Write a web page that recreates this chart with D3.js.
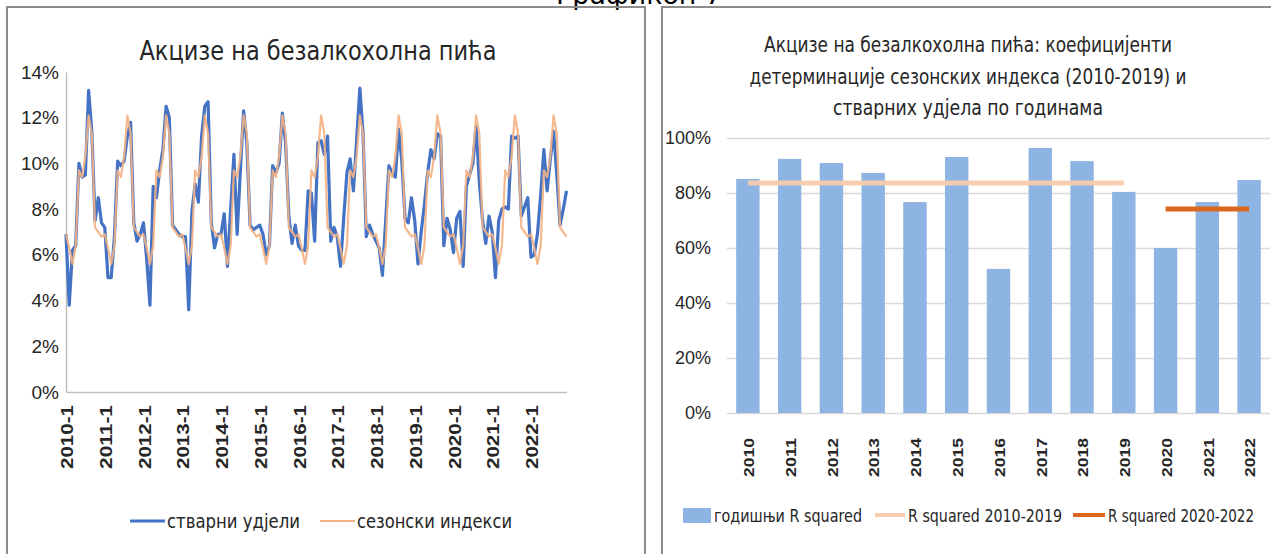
<!DOCTYPE html>
<html>
<head>
<meta charset="utf-8">
<script src="https://cdn.jsdelivr.net/npm/d3@7"></script>
<style>
body { margin: 0; background: #fff; }
svg { display: block; font-family: "Liberation Sans Narrow", "DejaVu Sans Condensed", "Liberation Sans", sans-serif; }
</style>
</head>
<body>
<script>
// ---- data ----
var years = [2010, 2011, 2012, 2013, 2014, 2015, 2016, 2017, 2018, 2019, 2020, 2021, 2022];

// monthly share, % (стварни удјели)
var stvarniUdjeli = [
  6.9, 3.8, 6.2, 6.4, 10.0, 9.4, 9.5, 13.2, 11.4, 7.5, 8.5, 7.4,
  7.2, 5.0, 5.0, 6.8, 10.1, 9.9, 10.1, 11.2, 11.8, 7.4, 6.6, 6.9,
  7.4, 5.8, 3.8, 9.0, 8.5, 9.7, 10.6, 12.5, 12.0, 7.3, 7.1, 6.9,
  6.8, 6.8, 3.6, 7.9, 9.1, 8.3, 11.2, 12.5, 12.7, 7.4, 6.3, 6.9,
  6.9, 7.8, 5.5, 8.0, 10.4, 6.9, 9.7, 12.3, 10.9, 7.3, 7.1, 7.2,
  7.3, 6.9, 6.0, 6.4, 9.9, 9.6, 10.0, 12.2, 10.9, 7.7, 6.5, 7.3,
  6.4, 6.2, 6.2, 8.8, 8.7, 6.6, 10.9, 11.0, 10.4, 11.2, 6.6, 7.2,
  6.8, 5.5, 7.6, 9.6, 10.2, 8.8, 11.0, 13.3, 11.3, 6.8, 7.3, 6.9,
  6.6, 6.3, 5.1, 7.5, 9.9, 9.6, 9.4, 11.5, 10.1, 7.6, 7.4, 8.5,
  7.5, 5.6, 7.0, 8.2, 9.6, 10.6, 10.2, 11.3, 11.2, 6.4, 7.6, 7.1,
  6.1, 7.6, 7.9, 5.5, 9.0, 9.5, 10.0, 11.6, 9.2, 7.5, 6.5, 7.7,
  7.0, 5.0, 7.5, 8.0, 8.1, 8.0, 11.2, 11.1, 11.2, 7.7, 8.1, 8.5,
  5.9, 6.0, 6.9, 8.6, 10.6, 8.8, 10.2, 11.4, 9.5, 7.3, 8.0, 8.8
];

// seasonal index, % (сезонски индекси)
var sezonskiIndeksi = [
  6.9, 6.3, 5.6, 6.4, 9.7, 9.4, 10.3, 12.1, 11.3, 7.2, 7.0, 6.8,
  6.9, 6.3, 5.6, 6.4, 9.7, 9.4, 10.3, 12.1, 11.3, 7.2, 7.0, 6.8,
  6.9, 6.3, 5.6, 6.4, 9.7, 9.4, 10.3, 12.1, 11.3, 7.2, 7.0, 6.8,
  6.9, 6.3, 5.6, 6.4, 9.7, 9.4, 10.3, 12.1, 11.3, 7.2, 7.0, 6.8,
  6.9, 6.3, 5.6, 6.4, 9.7, 9.4, 10.3, 12.1, 11.3, 7.2, 7.0, 6.8,
  6.9, 6.3, 5.6, 6.4, 9.7, 9.4, 10.3, 12.1, 11.3, 7.2, 7.0, 6.8,
  6.9, 6.3, 5.6, 6.4, 9.7, 9.4, 10.3, 12.1, 11.3, 7.2, 7.0, 6.8,
  6.9, 6.3, 5.6, 6.4, 9.7, 9.4, 10.3, 12.1, 11.3, 7.2, 7.0, 6.8,
  6.9, 6.3, 5.6, 6.4, 9.7, 9.4, 10.3, 12.1, 11.3, 7.2, 7.0, 6.8,
  6.9, 6.3, 5.6, 6.4, 9.7, 9.4, 10.3, 12.1, 11.3, 7.2, 7.0, 6.8,
  6.9, 6.3, 5.6, 6.4, 9.7, 9.4, 10.3, 12.1, 11.3, 7.2, 7.0, 6.8,
  6.9, 6.3, 5.6, 6.4, 9.7, 9.4, 10.3, 12.1, 11.3, 7.2, 7.0, 6.8,
  6.9, 6.3, 5.6, 6.4, 9.7, 9.4, 10.3, 12.1, 11.3, 7.2, 7.0, 6.8
];

// yearly R squared, %
var godisnjiR = [85.1, 92.4, 90.9, 87.3, 76.7, 93.1, 52.4, 96.4, 91.6, 80.4, 60.0, 76.7, 84.7];
var r2010_2019 = [83.6, 83.6, 83.6, 83.6, 83.6, 83.6, 83.6, 83.6, 83.6, 83.6, null, null, null];
var r2020_2022 = [null, null, null, null, null, null, null, null, null, null, 74.2, 74.2, 74.2];

var leftTicks = [0, 2, 4, 6, 8, 10, 12, 14];
var rightTicks = [0, 20, 40, 60, 80, 100];

// ---- drawing ----
var W = 1271, H = 554;
var txt = "#262626";
var svg = d3.select("body").append("svg").attr("width", W).attr("height", H);

function fit(sel, w) {
    sel.attr("textLength", w).attr("lengthAdjust", "spacingAndGlyphs");
    return sel;
}

// page caption (cut at top, as in the source page)
svg.append("text").attr("x", 639).attr("y", 4).attr("text-anchor", "middle")
    .style("font-size", "26px").attr("fill", "#000").call(fit, 166).text("Графикон 7");

// panel frames
svg.append("rect").attr("x", 7).attr("y", 7).attr("width", 638).attr("height", 570)
    .attr("fill", "none").attr("stroke", "#8c8c8c").attr("stroke-width", 2);
svg.append("rect").attr("x", 662).attr("y", 7).attr("width", 640).attr("height", 570)
    .attr("fill", "none").attr("stroke", "#8c8c8c").attr("stroke-width", 2);

// ===== left chart =====
var months = [];
years.forEach(function(y) { for (var m = 1; m <= 12; m++) months.push(y + "-" + m); });

var x1 = d3.scalePoint().domain(months).range([66, 566.5]);
var y1 = d3.scaleLinear().domain([0, 14]).range([392, 72]);

var g1 = svg.append("g");

g1.append("text").attr("x", 318).attr("y", 60).attr("text-anchor", "middle")
    .style("font-size", "26px").attr("fill", txt).call(fit, 357).text("Акцизе на безалкохолна пића");

var ya1 = g1.append("g").attr("transform", "translate(66,0)")
    .call(d3.axisLeft(y1).tickValues(leftTicks).tickSize(0).tickPadding(7).tickFormat(function(d) { return d + "%"; }));
ya1.select(".domain").attr("stroke", "#bfbfbf").attr("stroke-width", 1.5);
ya1.selectAll("text").style("font-size", "19px").attr("fill", txt).attr("font-family", null);

var xa1 = g1.append("g").attr("transform", "translate(0,392)")
    .call(d3.axisBottom(x1).tickValues(years.map(function(y) { return y + "-1"; })).tickSize(0));
xa1.select(".domain").attr("stroke", "#bfbfbf").attr("stroke-width", 1.5);
xa1.selectAll("text")
    .attr("transform", "rotate(-90)").attr("x", -13).attr("y", 1).attr("dy", "0.35em")
    .attr("text-anchor", "end").style("font-size", "16px").style("font-weight", "bold")
    .attr("fill", txt).attr("font-family", null).call(fit, 64);

var line1 = d3.line()
    .x(function(d, i) { return x1(months[i]); })
    .y(function(d) { return y1(d); });

g1.append("path").datum(stvarniUdjeli).attr("d", line1)
    .attr("fill", "none").attr("stroke", "#4472c4").attr("stroke-width", 3.2).attr("stroke-linejoin", "round");
g1.append("path").datum(sezonskiIndeksi).attr("d", line1)
    .attr("fill", "none").attr("stroke", "#f4b183").attr("stroke-width", 2.2).attr("stroke-opacity", 0.9)
    .attr("stroke-linejoin", "round");

// legend
var lg1 = g1.append("g").style("font-size", "19px").attr("fill", txt);
lg1.append("line").attr("x1", 130).attr("x2", 165).attr("y1", 521).attr("y2", 521)
    .attr("stroke", "#4472c4").attr("stroke-width", 3);
lg1.append("text").attr("x", 167).attr("y", 528).call(fit, 133).text("стварни удјели");
lg1.append("line").attr("x1", 320).attr("x2", 355).attr("y1", 521).attr("y2", 521)
    .attr("stroke", "#f4b183").attr("stroke-width", 2);
lg1.append("text").attr("x", 357).attr("y", 528).call(fit, 155).text("сезонски индекси");

// ===== right chart =====
var x2 = d3.scaleBand().domain(years).range([727, 1270]).paddingInner(0.44).paddingOuter(0.22);
var y2 = d3.scaleLinear().domain([0, 100]).range([413, 138]);
var cx = function(d) { return x2(d) + x2.bandwidth() / 2; };

var g2 = svg.append("g");

var titleLines = [
    ["Акцизе на безалкохолна пића: коефицијенти", 408],
    ["детерминације сезонских индекса (2010-2019) и", 437],
    ["стварних удјела по годинама", 270]
];
g2.selectAll(".ttl").data(titleLines).enter().append("text")
    .attr("x", 968).attr("y", function(d, i) { return 52 + i * 31.5; })
    .attr("text-anchor", "middle").style("font-size", "22px").attr("fill", txt)
    .attr("textLength", function(d) { return d[1]; }).attr("lengthAdjust", "spacingAndGlyphs")
    .text(function(d) { return d[0]; });

var ya2 = g2.append("g").attr("transform", "translate(727,0)")
    .call(d3.axisLeft(y2).tickValues(rightTicks).tickSize(-543).tickPadding(16).tickFormat(function(d) { return d + "%"; }));
ya2.select(".domain").remove();
ya2.selectAll("line").attr("stroke", "#d9d9d9").attr("stroke-width", 1.5);
ya2.selectAll("text").style("font-size", "18px").attr("fill", txt).attr("font-family", null);

g2.selectAll(".bar").data(godisnjiR).enter().append("rect")
    .attr("x", function(d, i) { return x2(years[i]); })
    .attr("width", x2.bandwidth())
    .attr("y", function(d) { return y2(d); })
    .attr("height", function(d) { return y2(0) - y2(d); })
    .attr("fill", "#8db4e2");

var line2 = d3.line()
    .defined(function(d) { return d != null; })
    .x(function(d, i) { return cx(years[i]); })
    .y(function(d) { return y2(d); });

g2.append("path").datum(r2010_2019).attr("d", line2)
    .attr("fill", "none").attr("stroke", "#f8cbad").attr("stroke-width", 5).attr("stroke-opacity", 0.95);
g2.append("path").datum(r2020_2022).attr("d", line2)
    .attr("fill", "none").attr("stroke", "#d9681e").attr("stroke-width", 5);

var xa2 = g2.append("g").attr("transform", "translate(0,413)")
    .call(d3.axisBottom(x2).tickSize(0));
xa2.select(".domain").remove();
xa2.selectAll("text")
    .attr("transform", "rotate(-90)").attr("x", -25).attr("y", 1).attr("dy", "0.35em")
    .attr("text-anchor", "end").style("font-size", "15px").style("font-weight", "bold")
    .attr("fill", txt).attr("font-family", null).call(fit, 39);

// legend
var lg2 = g2.append("g").style("font-size", "18px").attr("fill", txt);
lg2.append("rect").attr("x", 683).attr("y", 508).attr("width", 28).attr("height", 15).attr("fill", "#8db4e2");
lg2.append("text").attr("x", 714).attr("y", 522).call(fit, 148).text("годишњи R squared");
lg2.append("line").attr("x1", 875).attr("x2", 905).attr("y1", 515).attr("y2", 515)
    .attr("stroke", "#f8cbad").attr("stroke-width", 4);
lg2.append("text").attr("x", 908).attr("y", 522).call(fit, 154).text("R squared 2010-2019");
lg2.append("line").attr("x1", 1073).attr("x2", 1105).attr("y1", 515).attr("y2", 515)
    .attr("stroke", "#d9681e").attr("stroke-width", 4);
lg2.append("text").attr("x", 1108).attr("y", 522).call(fit, 146).text("R squared 2020-2022");
</script>
</body>
</html>
